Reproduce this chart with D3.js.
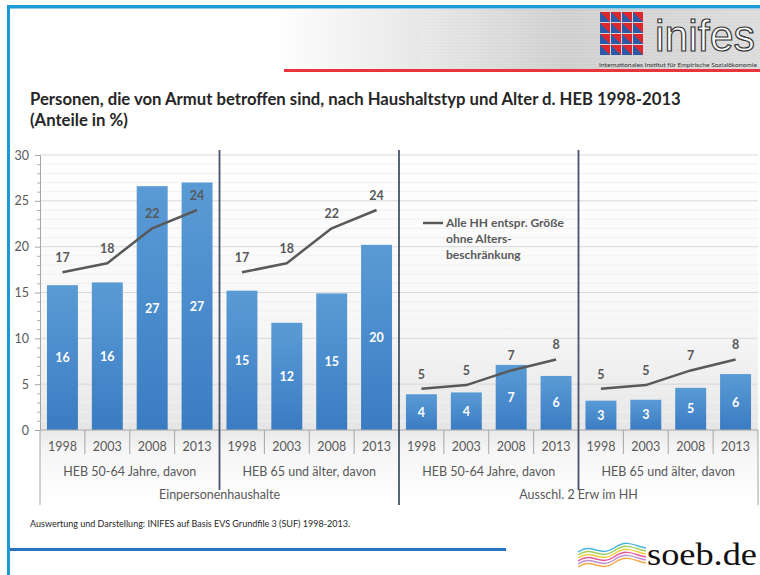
<!DOCTYPE html>
<html><head><meta charset="utf-8">
<script src="https://cdn.jsdelivr.net/npm/d3@7/dist/d3.min.js"></script>
<style>
html,body{margin:0;padding:0;background:#fff;}
svg{display:block;font-family:Lato,"Open Sans",sans-serif;}
</style></head>
<body>
<svg id="c" width="760" height="575"></svg>
<script>
const years = ["1998","2003","2008","2013"];
const ageGroups = ["HEB 50-64 Jahre, davon","HEB 65 und älter, davon","HEB 50-64 Jahre, davon","HEB 65 und älter, davon"];
const households = ["Einpersonenhaushalte","Ausschl. 2 Erw im HH"];
const barValues = [15.8,16.1,26.6,27.0, 15.2,11.7,14.9,20.2, 3.9,4.1,7.1,5.9, 3.2,3.3,4.6,6.1];
const barLabels = [16,16,27,27, 15,12,15,20, 4,4,7,6, 3,3,5,6];
const lineValues = [17.2,18.2,22.0,24.0, 17.2,18.2,22.0,24.0, 4.5,4.9,6.5,7.7, 4.5,4.9,6.5,7.7];
const lineLabels = [17,18,22,24, 17,18,22,24, 5,5,7,8, 5,5,7,8];
const yTicks = [0,5,10,15,20,25,30];
const legendLines = ["Alle HH entspr. Größe","ohne Alters-","beschränkung"];
const titleLines = ["Personen, die von Armut betroffen sind, nach Haushaltstyp und Alter d. HEB 1998-2013","(Anteile in %)"];
const source = "Auswertung und Darstellung: INIFES auf Basis EVS Grundfile 3 (SUF) 1998-2013.";

const svg = d3.select("#c");
const defs = svg.append("defs");

const bg = defs.append("linearGradient").attr("id","bgG").attr("x1",0).attr("y1",0).attr("x2",0).attr("y2",1);
bg.append("stop").attr("offset","0%").attr("stop-color","#ffffff");
bg.append("stop").attr("offset","50%").attr("stop-color","#f7f7f7");
bg.append("stop").attr("offset","78%").attr("stop-color","#e6e6e6");
bg.append("stop").attr("offset","84%").attr("stop-color","#f5f5f5");
bg.append("stop").attr("offset","100%").attr("stop-color","#ffffff");
const bar = defs.append("linearGradient").attr("id","barG").attr("x1",0).attr("y1",0).attr("x2",0).attr("y2",1);
bar.append("stop").attr("offset","0%").attr("stop-color","#5a9bd6");
bar.append("stop").attr("offset","100%").attr("stop-color","#3a7cc2");
const hdr = defs.append("linearGradient").attr("id","hdrG").attr("x1",0).attr("y1",0).attr("x2",1).attr("y2",0);
hdr.append("stop").attr("offset","0%").attr("stop-color","#ffffff");
hdr.append("stop").attr("offset","25%").attr("stop-color","#ececec");
hdr.append("stop").attr("offset","60%").attr("stop-color","#cdcdcd");
hdr.append("stop").attr("offset","100%").attr("stop-color","#dadada");

// frame decorations
svg.append("rect").attr("x",270).attr("y",9).attr("width",490).attr("height",61).attr("fill","url(#hdrG)");
for(let yy=12; yy<70; yy+=3){
  svg.append("line").attr("x1",420).attr("x2",760).attr("y1",yy).attr("y2",yy).attr("stroke","#ffffff").attr("stroke-opacity",0.25).attr("stroke-width",1);
}
svg.append("rect").attr("x",7).attr("y",5).attr("width",753).attr("height",3.5).attr("fill","#1c9ad6");
svg.append("rect").attr("x",7).attr("y",5).attr("width",3).attr("height",570).attr("fill","#1c9ad6");
svg.append("rect").attr("x",284).attr("y",69).attr("width",476).attr("height",3).attr("fill","#e8343a");
svg.append("rect").attr("x",10).attr("y",548).attr("width",496).attr("height",3).attr("fill","#2a72c0");

// inifes logo
const lg = svg.append("g");
for(let r=0;r<4;r++) for(let c=0;c<4;c++){
  const x0=600+c*11, y0=12+r*11, s=10;
  lg.append("rect").attr("x",x0).attr("y",y0).attr("width",s).attr("height",s).attr("fill","#e0262b");
  lg.append("path").attr("d",`M${x0},${y0}L${x0},${y0+s}L${x0+s},${y0+s}Z`).attr("fill","#2b5aa8");
}
lg.append("text").attr("x",655).attr("y",51).attr("font-family","'Liberation Sans Narrow','Liberation Sans',sans-serif")
  .attr("font-size",44).attr("fill","#ffffff").attr("stroke","#333").attr("stroke-width",1.2)
  .attr("textLength",100).attr("lengthAdjust","spacingAndGlyphs").text("inifes");
lg.append("text").attr("x",599).attr("y",67).attr("font-size",6).attr("fill","#333")
  .attr("textLength",158).attr("lengthAdjust","spacingAndGlyphs").text("Internationales Institut für Empirische Sozialökonomie");

// soeb logo
const sl = svg.append("g");
const waveCols = ["#2aa7d6","#8cc63f","#f0c419","#e23b8a","#b07cc6","#f59a23"];
waveCols.forEach((col,i)=>{
  const y=548+i*3;
  sl.append("path").attr("d",`M578,${y+4} C592,${y-6} 600,${y+10} 614,${y} S636,${y-1} 646,${y}`)
    .attr("fill","none").attr("stroke",col).attr("stroke-width",1.4).attr("opacity",0.85);
});
sl.append("text").attr("x",647).attr("y",565).attr("font-family","'Liberation Serif','DejaVu Serif',serif")
  .attr("font-size",31).attr("fill","#111").attr("textLength",110).attr("lengthAdjust","spacingAndGlyphs").text("soeb.de");

// title
function fit(sel, w){ const n=sel.node(); const l=n.getComputedTextLength(); const fs=parseFloat(sel.attr("font-size")); sel.attr("font-size", fs*w/l); }
const t1 = svg.append("text").attr("x",30).attr("y",105).attr("font-size",16).attr("font-weight","bold").attr("fill","#262626").text(titleLines[0]);
fit(t1, 651);
svg.append("text").attr("x",30).attr("y",126).attr("font-size",t1.attr("font-size")).attr("font-weight","bold").attr("fill","#262626").text(titleLines[1]);

// chart
const L=40, R=758, T=155, B=430;
const n = barValues.length;
const idx = d3.range(n);
const x = d3.scaleBand().domain(idx).range([L,R]).paddingInner(0.31).paddingOuter(0.155);
const y = d3.scaleLinear().domain([0,30]).range([B,T]);

svg.append("rect").attr("x",L).attr("y",T-5).attr("width",R-L).attr("height",505-T+5).attr("fill","url(#bgG)");

const g = svg.append("g");
g.selectAll("line.minor").data(d3.range(0,31,1).filter(v=>v%5!==0)).join("line")
  .attr("x1",L).attr("x2",R).attr("y1",d=>y(d)).attr("y2",d=>y(d)).attr("stroke","#f0f0f0").attr("stroke-width",1);
g.selectAll("line.major").data(yTicks.filter(v=>v>0)).join("line")
  .attr("x1",L).attr("x2",R).attr("y1",d=>y(d)).attr("y2",d=>y(d)).attr("stroke","#d9d9d9").attr("stroke-width",1);

const ya = svg.append("g").attr("transform",`translate(${L},0)`)
  .call(d3.axisLeft(y).tickValues(yTicks).tickSize(5).tickPadding(6));
ya.select(".domain").attr("stroke","#a6a6a6");
ya.selectAll(".tick line").attr("stroke","#a6a6a6");
ya.selectAll("text").attr("font-size",12.5).attr("fill","#595959").attr("font-family","Lato,'Open Sans',sans-serif");
const ym = svg.append("g").attr("transform",`translate(${L},0)`)
  .call(d3.axisLeft(y).tickValues(d3.range(0,31,1).filter(v=>v%5!==0)).tickSize(3).tickFormat(""));
ym.select(".domain").remove();
ym.selectAll(".tick line").attr("stroke","#b0b0b0");

svg.append("g").selectAll("rect").data(idx).join("rect")
  .attr("x",i=>x(i)).attr("width",x.bandwidth())
  .attr("y",i=>y(barValues[i])).attr("height",i=>B-y(barValues[i]))
  .attr("fill","url(#barG)");
svg.append("g").selectAll("text").data(idx).join("text")
  .attr("x",i=>x(i)+x.bandwidth()/2).attr("y",i=>(y(barValues[i])+B)/2+4.5)
  .attr("text-anchor","middle").attr("font-size",12.5).attr("font-weight","bold").attr("fill","#ffffff")
  .text(i=>barLabels[i]);

svg.append("line").attr("x1",L).attr("x2",R).attr("y1",B).attr("y2",B).attr("stroke","#a6a6a6");
svg.append("line").attr("x1",L).attr("x2",L).attr("y1",B).attr("y2",505).attr("stroke","#a6a6a6");
svg.append("line").attr("x1",R).attr("x2",R).attr("y1",B).attr("y2",505).attr("stroke","#a6a6a6");

const step = x.step();
svg.append("g").selectAll("text").data(idx).join("text")
  .attr("x",i=>x(i)+x.bandwidth()/2).attr("y",B+21)
  .attr("text-anchor","middle").attr("font-size",12.5).attr("fill","#595959").text(i=>years[i%4]);
svg.append("g").selectAll("line").data(idx.filter(i=>i%4!==0)).join("line")
  .attr("x1",i=>x(i)-step*0.155).attr("x2",i=>x(i)-step*0.155).attr("y1",B).attr("y2",B+24)
  .attr("stroke","#a6a6a6");

svg.append("g").selectAll("text").data(d3.range(4)).join("text")
  .attr("x",gi=>(x(gi*4)+x(gi*4+3)+x.bandwidth())/2).attr("y",B+46)
  .attr("text-anchor","middle").attr("font-size",12.5).attr("fill","#595959").text(gi=>ageGroups[gi]);
svg.append("g").selectAll("text").data(d3.range(2)).join("text")
  .attr("x",hi=>(x(hi*8)+x(hi*8+7)+x.bandwidth())/2).attr("y",B+69)
  .attr("text-anchor","middle").attr("font-size",12.5).attr("fill","#595959").text(hi=>households[hi]);

const divX = gi => x(gi*4)-step*0.155;
svg.append("g").selectAll("line").data([1,2,3]).join("line")
  .attr("x1",divX).attr("x2",divX).attr("y1",T-5).attr("y2",gi=>gi===2?505:490)
  .attr("stroke","#44546a").attr("stroke-width",1.8);

const line = d3.line().x(i=>x(i)+x.bandwidth()/2).y(i=>y(lineValues[i]));
d3.range(4).forEach(gi=>{
  const pts = d3.range(gi*4, gi*4+4);
  svg.append("path").datum(pts).attr("d",line).attr("fill","none").attr("stroke","#595959").attr("stroke-width",2.5).attr("stroke-linejoin","round");
});
svg.append("g").selectAll("text").data(idx).join("text")
  .attr("x",i=>x(i)+x.bandwidth()/2).attr("y",i=>y(lineValues[i])-10)
  .attr("text-anchor","middle").attr("font-size",12.5).attr("font-weight","bold").attr("fill","#595959")
  .text(i=>lineLabels[i]);

svg.append("line").attr("x1",423).attr("x2",443).attr("y1",223).attr("y2",223).attr("stroke","#595959").attr("stroke-width",2.5);
svg.append("g").selectAll("text").data(legendLines).join("text")
  .attr("x",446).attr("y",(d,i)=>227+i*16).attr("font-size",12).attr("font-weight","bold").attr("fill","#595959").text(d=>d);

svg.append("text").attr("x",30).attr("y",527).attr("font-size",9).attr("fill","#262626").text(source);
</script>
</body></html>
